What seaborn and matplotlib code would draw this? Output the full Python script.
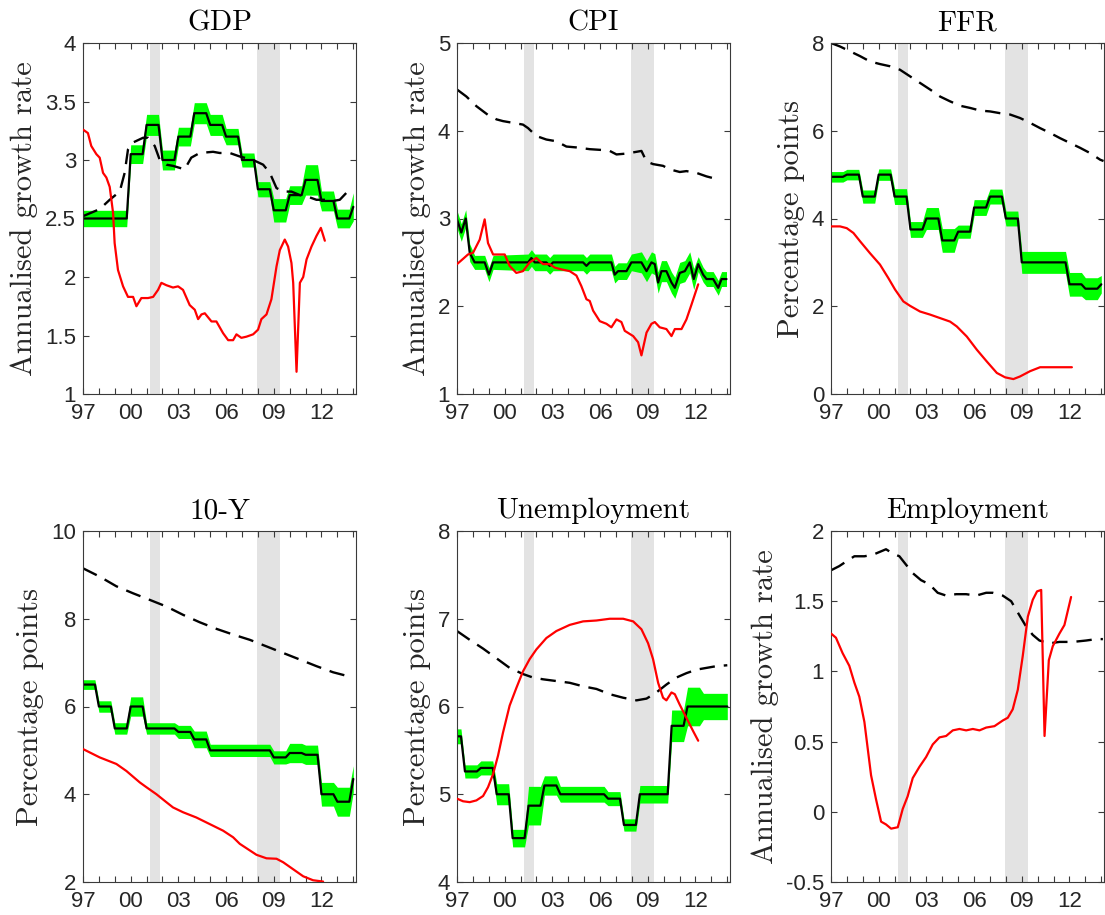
import numpy as np
import pandas as pd
import matplotlib
matplotlib.use("Agg")
import matplotlib.pyplot as plt
from matplotlib.ticker import FuncFormatter
import seaborn as sns

sns.set_theme(style="white")
plt.rcParams["font.family"] = ["Liberation Sans", "DejaVu Sans"]
plt.rcParams["axes.unicode_minus"] = False

# ---------------- data ----------------
quarters = [1997 + 0.25 * i for i in range(69)]
recessions = [(2001.2, 2001.85), (2007.92, 2009.42)]
year_ticks = list(range(1997, 2015))
year_labels = ["97", "", "", "00", "", "", "03", "", "", "06", "", "", "09", "", "", "12", "", ""]

# GDP
gdp_med = ([2.5] * 12 + [3.05] * 4 + [3.3] * 4 + [3.0] * 4 + [3.2] * 4 + [3.4] * 4 + [3.3] * 4
           + [3.2] * 4 + [3.0] * 4 + [2.75] * 4 + [2.57] * 4 + [2.7] * 4 + [2.83] * 4 + [2.65] * 4
           + [2.5] * 4 + [2.6])
gdp_hw = ([0.07] * 12 + [0.08] * 4 + [0.09] * 4 + [0.085] * 4 + [0.08] * 4 + [0.09] * 4 + [0.09] * 4
          + [0.07] * 4 + [0.06] * 4 + [0.065] * 4 + [0.1] * 4 + [0.08] * 4 + [0.13] * 4 + [0.085] * 4
          + [0.08] * 4 + [0.12])
gdp_dash_x = [1997.0, 1998.05, 1998.68, 1999.31, 1999.62, 1999.83, 2000.15, 2000.78, 2001.09, 2001.51,
              2001.83, 2002.24, 2002.66, 2003.39, 2003.81, 2004.34, 2005.18, 2005.60, 2006.23, 2006.86,
              2007.70, 2008.33, 2008.75, 2009.17, 2009.59, 2010.11, 2010.64, 2011.27, 2011.68, 2012.31,
              2012.73, 2013.15, 2013.57, 2014.0]
gdp_dash = [2.52, 2.58, 2.66, 2.73, 2.89, 3.09, 3.15, 3.19, 3.19, 3.12, 3.0, 2.96, 2.95, 2.92, 3.02,
            3.06, 3.07, 3.06, 3.06, 3.03, 3.0, 2.96, 2.89, 2.76, 2.73, 2.73, 2.70, 2.68, 2.66, 2.66,
            2.65, 2.66, 2.72, 2.72]
gdp_red_x = [1997.0, 1997.31, 1997.52, 1997.84, 1998.05, 1998.26, 1998.47, 1998.68, 1998.89, 1998.99,
             1999.20, 1999.52, 1999.83, 2000.15, 2000.36, 2000.67, 2001.09, 2001.41, 2001.72, 2001.93,
             2002.24, 2002.66, 2002.98, 2003.29, 2003.71, 2004.03, 2004.24, 2004.45, 2004.66, 2005.08,
             2005.39, 2005.81, 2006.13, 2006.44, 2006.65, 2006.96, 2007.28, 2007.70, 2008.01, 2008.22,
             2008.54, 2008.85, 2009.17, 2009.38, 2009.69, 2009.90, 2010.11, 2010.22, 2010.43, 2010.64,
             2010.85, 2011.06, 2011.37, 2011.68, 2011.96, 2012.21]
gdp_red = [3.26, 3.23, 3.12, 3.05, 3.02, 2.89, 2.85, 2.77, 2.55, 2.29, 2.06, 1.92, 1.83, 1.83, 1.75,
           1.82, 1.82, 1.83, 1.89, 1.95, 1.93, 1.91, 1.92, 1.89, 1.76, 1.72, 1.64, 1.68, 1.69, 1.62,
           1.62, 1.52, 1.46, 1.46, 1.51, 1.48, 1.49, 1.51, 1.55, 1.64, 1.68, 1.81, 2.09, 2.23, 2.32,
           2.26, 2.12, 1.95, 1.19, 1.95, 2.0, 2.15, 2.26, 2.35, 2.42, 2.31]

# CPI
cpi_mid_x = [1997.0, 1997.27, 1997.55, 1997.80, 1998.11, 1998.74, 1999.01, 1999.27, 2001.47, 2001.68,
             2001.89, 2002.62, 2002.83, 2003.04, 2004.93, 2005.14, 2005.35, 2006.71, 2006.92, 2007.13,
             2007.66, 2007.97, 2008.60, 2008.92, 2009.23, 2009.44, 2009.65, 2009.86, 2010.17, 2010.49,
             2010.70, 2011.01, 2011.33, 2011.64, 2011.89, 2012.17, 2012.48, 2012.69, 2013.11, 2013.43,
             2013.64, 2013.95]
cpi_med = [2.99, 2.84, 3.0, 2.61, 2.5, 2.5, 2.36, 2.5, 2.5, 2.55, 2.5, 2.5, 2.46, 2.5, 2.5, 2.46, 2.5,
           2.5, 2.36, 2.40, 2.40, 2.5, 2.5, 2.40, 2.5, 2.48, 2.27, 2.40, 2.40, 2.27, 2.21, 2.38, 2.40,
           2.5, 2.31, 2.48, 2.36, 2.31, 2.31, 2.21, 2.31, 2.31]
cpi_hw = [0.1] * 4 + [0.08] * 4 + [0.095] * 14 + [0.12] * 13 + [0.085] * 7
cpi_dash_x = [1997.0, 1997.59, 1998.22, 1998.95, 1999.48, 1999.89, 2000.52, 2001.15, 2001.47, 2001.99,
              2002.62, 2003.25, 2003.88, 2004.51, 2005.35, 2006.19, 2006.61, 2007.03, 2007.66, 2008.29,
              2008.60, 2008.92, 2009.33, 2009.96, 2010.38, 2011.01, 2011.43, 2012.06, 2012.69, 2013.11,
              2013.53]
cpi_dash = [4.47, 4.39, 4.28, 4.18, 4.13, 4.11, 4.09, 4.07, 4.03, 3.94, 3.90, 3.88, 3.82, 3.81, 3.79,
            3.78, 3.77, 3.73, 3.74, 3.76, 3.77, 3.65, 3.62, 3.60, 3.56, 3.53, 3.54, 3.52, 3.48, 3.46,
            3.43]
cpi_red_x = [1997.0, 1997.38, 1997.69, 1998.01, 1998.43, 1998.74, 1998.95, 1999.27, 1999.69, 2000.0,
             2000.31, 2000.73, 2001.15, 2001.57, 2001.99, 2002.41, 2002.83, 2003.15, 2003.57, 2004.09,
             2004.51, 2004.82, 2005.14, 2005.35, 2005.56, 2005.98, 2006.40, 2006.71, 2007.03, 2007.34,
             2007.55, 2008.08, 2008.39, 2008.60, 2008.92, 2009.23, 2009.44, 2009.75, 2010.17, 2010.49,
             2010.70, 2011.12, 2011.43, 2011.75, 2012.17]
cpi_red = [2.48, 2.54, 2.59, 2.61, 2.76, 2.99, 2.72, 2.59, 2.59, 2.59, 2.46, 2.38, 2.40, 2.5, 2.55,
           2.48, 2.48, 2.44, 2.42, 2.40, 2.35, 2.23, 2.08, 2.06, 1.95, 1.83, 1.80, 1.76, 1.85, 1.82,
           1.72, 1.66, 1.59, 1.44, 1.70, 1.80, 1.82, 1.76, 1.74, 1.66, 1.74, 1.74, 1.85, 2.02, 2.25]

# FFR
ffr_med = ([4.95] * 4 + [5.0] * 4 + [4.5] * 4 + [5.0] * 4 + [4.5] * 4 + [3.75] * 4 + [4.0] * 4
           + [3.5] * 4 + [3.7] * 4 + [4.25] * 4 + [4.5] * 4 + [4.0] * 4 + [3.0] * 12 + [2.5] * 4
           + [2.4] * 4 + [2.5])
ffr_hw = ([0.12] * 4 + [0.12] * 4 + [0.15] * 4 + [0.13] * 4 + [0.18] * 4 + [0.18] * 4 + [0.25] * 4
          + [0.27] * 4 + [0.15] * 4 + [0.18] * 4 + [0.17] * 4 + [0.17] * 4 + [0.25] * 12 + [0.27] * 4
          + [0.25] * 4 + [0.2])
ffr_dash_x = [1997.0, 1997.57, 1998.20, 1998.83, 1999.45, 2000.08, 2000.71, 2001.34, 2001.97, 2002.60,
              2003.23, 2003.86, 2004.49, 2005.12, 2005.75, 2006.38, 2007.01, 2007.64, 2008.26, 2008.89,
              2009.52, 2010.15, 2010.78, 2011.41, 2012.04, 2012.67, 2013.30, 2013.93, 2014.14]
ffr_dash = [8.0, 7.92, 7.81, 7.70, 7.58, 7.52, 7.47, 7.39, 7.24, 7.09, 6.94, 6.78, 6.67, 6.57, 6.52,
            6.46, 6.44, 6.40, 6.37, 6.29, 6.18, 6.06, 5.95, 5.83, 5.72, 5.61, 5.49, 5.34, 5.31]
ffr_red_x = [1997.0, 1997.57, 1997.99, 1998.41, 1998.83, 1999.45, 2000.08, 2000.61, 2001.03, 2001.55,
             2001.97, 2002.60, 2003.23, 2003.86, 2004.49, 2004.91, 2005.54, 2006.17, 2006.80, 2007.43,
             2007.95, 2008.47, 2008.89, 2009.52, 2010.15, 2010.78, 2011.41, 2012.15]
ffr_red = [3.82, 3.82, 3.78, 3.67, 3.48, 3.21, 2.95, 2.64, 2.38, 2.11, 2.01, 1.88, 1.81, 1.73, 1.65,
           1.54, 1.31, 1.01, 0.74, 0.48, 0.38, 0.34, 0.40, 0.52, 0.61, 0.61, 0.61, 0.61]

# 10-Y
y10_med = ([6.5] * 4 + [6.0] * 4 + [5.5] * 4 + [6.0] * 4 + [5.5] * 8 + [5.42] * 4 + [5.25] * 4
           + [5.0] * 16 + [4.84] * 4 + [4.94] * 4 + [4.9] * 4 + [4.0] * 4 + [3.83] * 4 + [4.35])
y10_hw = ([0.11] * 4 + [0.13] * 4 + [0.13] * 4 + [0.22] * 4 + [0.13] * 8 + [0.15] * 4 + [0.19] * 4
          + [0.14] * 16 + [0.15] * 4 + [0.22] * 4 + [0.22] * 4 + [0.27] * 4 + [0.33] * 4 + [0.3])
y10_dash_x = [1997.0, 1998.05, 1999.10, 2000.15, 2001.20, 2002.24, 2003.29, 2004.34, 2005.39, 2006.44,
              2007.49, 2008.54, 2009.59, 2010.64, 2011.68, 2012.73, 2013.89]
y10_dash = [9.15, 8.96, 8.74, 8.58, 8.43, 8.28, 8.09, 7.92, 7.77, 7.64, 7.52, 7.37, 7.22, 7.07, 6.92,
            6.78, 6.67]
y10_red_x = [1997.0, 1998.05, 1999.10, 1999.73, 2000.57, 2000.99, 2001.62, 2002.24, 2002.66, 2003.29,
             2004.13, 2004.97, 2005.81, 2006.44, 2006.86, 2007.49, 2007.91, 2008.54, 2009.17, 2009.59,
             2010.22, 2010.85, 2011.47, 2012.10]
y10_red = [5.03, 4.84, 4.69, 4.53, 4.27, 4.16, 4.0, 3.82, 3.70, 3.59, 3.47, 3.32, 3.17, 3.02, 2.87,
           2.72, 2.62, 2.54, 2.53, 2.45, 2.29, 2.13, 2.04, 2.01]

# Unemployment
un_med = ([5.66] * 2 + [5.26] * 4 + [5.30] * 4 + [5.0] * 4 + [4.5] * 4 + [4.87] * 4 + [5.10] * 4
          + [5.0] * 12 + [4.95] * 4 + [4.65] * 4 + [5.0] * 8 + [5.78] * 4 + [6.0] * 11)
un_hw = ([0.085] * 2 + [0.075] * 4 + [0.08] * 4 + [0.12] * 4 + [0.1] * 4 + [0.22] * 4 + [0.11] * 4
         + [0.09] * 12 + [0.08] * 4 + [0.07] * 4 + [0.1] * 8 + [0.18] * 4 + [0.22] * 4 + [0.15] * 7)
un_dash_x = [1997.0, 1997.80, 1998.64, 1999.48, 2000.31, 2001.15, 2001.78, 2002.41, 2003.25, 2004.09,
             2004.93, 2005.77, 2006.61, 2007.45, 2008.29, 2008.92, 2009.54, 2010.17, 2010.80, 2011.43,
             2012.06, 2012.69, 2013.32, 2014.0]
un_dash = [6.86, 6.76, 6.66, 6.55, 6.44, 6.37, 6.33, 6.31, 6.29, 6.27, 6.23, 6.20, 6.14, 6.10, 6.07,
           6.09, 6.16, 6.25, 6.33, 6.38, 6.42, 6.44, 6.46, 6.47]
un_red_x = [1997.0, 1997.38, 1997.80, 1998.22, 1998.64, 1998.95, 1999.27, 1999.58, 1999.89, 2000.31,
            2000.73, 2001.15, 2001.57, 2001.99, 2002.62, 2003.25, 2004.09, 2004.93, 2005.77, 2006.61,
            2007.45, 2008.08, 2008.60, 2009.02, 2009.33, 2009.65, 2009.96, 2010.17, 2010.49, 2010.70,
            2011.01, 2011.43, 2011.85, 2012.17]
un_red = [4.95, 4.92, 4.91, 4.93, 4.98, 5.08, 5.23, 5.44, 5.70, 6.01, 6.21, 6.40, 6.54, 6.65, 6.78,
          6.86, 6.93, 6.97, 6.98, 7.0, 7.0, 6.97, 6.88, 6.72, 6.54, 6.27, 6.10, 6.07, 6.16, 6.14, 6.02,
          5.87, 5.72, 5.61]

# Employment
emp_dash_x = [1997.0, 1997.52, 1998.05, 1998.47, 1999.10, 1999.62, 2000.04, 2000.46, 2000.88, 2001.30,
              2001.72, 2002.14, 2002.66, 2003.19, 2003.71, 2004.24, 2004.87, 2005.50, 2006.13, 2006.76,
              2007.17, 2007.80, 2008.33, 2008.85, 2009.27, 2009.69, 2010.11, 2010.74, 2011.37, 2012.21,
              2013.05, 2013.68, 2014.1]
emp_dash = [1.72, 1.75, 1.79, 1.82, 1.82, 1.83, 1.85, 1.87, 1.84, 1.82, 1.76, 1.70, 1.65, 1.62, 1.56,
            1.54, 1.55, 1.55, 1.54, 1.56, 1.56, 1.54, 1.50, 1.40, 1.32, 1.26, 1.22, 1.20, 1.21, 1.21,
            1.22, 1.23, 1.23]
emp_red_x = [1997.0, 1997.31, 1997.73, 1998.15, 1998.47, 1998.78, 1999.10, 1999.31, 1999.52, 1999.83,
             2000.15, 2000.46, 2000.78, 2001.20, 2001.51, 2001.82, 2002.14, 2002.56, 2002.98, 2003.40,
             2003.82, 2004.24, 2004.66, 2005.08, 2005.50, 2005.92, 2006.34, 2006.76, 2007.28, 2007.80,
             2008.12, 2008.43, 2008.75, 2009.06, 2009.38, 2009.69, 2009.96, 2010.22, 2010.43, 2010.70,
             2010.95, 2011.37, 2011.68, 2012.10]
emp_red = [1.27, 1.24, 1.13, 1.04, 0.92, 0.82, 0.64, 0.45, 0.26, 0.09, -0.07, -0.09, -0.12, -0.11,
           0.02, 0.11, 0.24, 0.32, 0.39, 0.48, 0.53, 0.54, 0.58, 0.59, 0.58, 0.59, 0.58, 0.60, 0.61,
           0.65, 0.67, 0.73, 0.87, 1.11, 1.39, 1.51, 1.57, 1.58, 0.54, 1.08, 1.18, 1.27, 1.33, 1.53]

panels = [
    dict(title="GDP", ylabel="Annualised growth rate", ylim=(1, 4), yticks=[1, 1.5, 2, 2.5, 3, 3.5, 4],
         mid_x=quarters, mid=gdp_med, hw=gdp_hw, dash_x=gdp_dash_x, dash=gdp_dash, red_x=gdp_red_x, red=gdp_red),
    dict(title="CPI", ylabel="Annualised growth rate", ylim=(1, 5), yticks=[1, 2, 3, 4, 5],
         mid_x=cpi_mid_x, mid=cpi_med, hw=cpi_hw, dash_x=cpi_dash_x, dash=cpi_dash, red_x=cpi_red_x, red=cpi_red),
    dict(title="FFR", ylabel="Percentage points", ylim=(0, 8), yticks=[0, 2, 4, 6, 8],
         mid_x=quarters, mid=ffr_med, hw=ffr_hw, dash_x=ffr_dash_x, dash=ffr_dash, red_x=ffr_red_x, red=ffr_red),
    dict(title="10-Y", ylabel="Percentage points", ylim=(2, 10), yticks=[2, 4, 6, 8, 10],
         mid_x=quarters, mid=y10_med, hw=y10_hw, dash_x=y10_dash_x, dash=y10_dash, red_x=y10_red_x, red=y10_red),
    dict(title="Unemployment", ylabel="Percentage points", ylim=(4, 8), yticks=[4, 5, 6, 7, 8],
         mid_x=quarters, mid=un_med, hw=un_hw, dash_x=un_dash_x, dash=un_dash, red_x=un_red_x, red=un_red),
    dict(title="Employment", ylabel="Annualised growth rate", ylim=(-0.5, 2), yticks=[-0.5, 0, 0.5, 1, 1.5, 2],
         mid_x=None, mid=None, hw=None, dash_x=emp_dash_x, dash=emp_dash, red_x=emp_red_x, red=emp_red),
]

# ---------------- layout ----------------
W, H = 1105, 915
fig = plt.figure(figsize=(W / 100, H / 100), dpi=100)
col_left = [83, 457, 831]
row_top = [43, 531]
ax_w, ax_h = 273, 351

axis_col = "#3a3a3a"
serif = ["cmr10", "DejaVu Serif"]

for i, p in enumerate(panels):
    r, c = divmod(i, 3)
    left = col_left[c] / W
    bottom = 1 - (row_top[r] + ax_h) / H
    ax = fig.add_axes([left, bottom, ax_w / W, ax_h / H])

    for a, b in recessions:
        ax.axvspan(a, b, color="#e3e3e3", lw=0, zorder=0.5)

    if p["mid"] is not None:
        mid = np.array(p["mid"])
        hw = np.array(p["hw"])
        ax.fill_between(p["mid_x"], mid - hw, mid + hw, color=(0, 1, 0), lw=0, zorder=1)
        sns.lineplot(x=p["mid_x"], y=p["mid"], ax=ax, color="black", lw=1.6,
                     estimator=None, sort=False, legend=False, zorder=2)
    sns.lineplot(x=p["dash_x"], y=p["dash"], ax=ax, color="black", lw=1.7,
                 estimator=None, sort=False, legend=False, zorder=2.5)
    ax.lines[-1].set_dashes([6.5, 3.8])
    sns.lineplot(x=p["red_x"], y=p["red"], ax=ax, color="red", lw=1.6,
                 estimator=None, sort=False, legend=False, zorder=3)

    ax.set_xlim(1997, 2014.17)
    ax.set_ylim(*p["ylim"])
    ax.set_xticks(year_ticks)
    ax.set_xticklabels(year_labels)
    ax.set_yticks(p["yticks"])
    ax.yaxis.set_major_formatter(FuncFormatter(lambda v, pos: "%g" % v))
    ax.tick_params(direction="in", length=4.5, width=0.8, color=axis_col, labelcolor="#262626",
                   labelsize=16, top=True, right=True, bottom=True, left=True)
    ax.tick_params(axis="x", pad=6.5)
    ax.tick_params(axis="y", pad=5)
    for s in ax.spines.values():
        s.set_color(axis_col)
        s.set_linewidth(0.8)
        s.set_visible(True)
    ax.set_xlabel("")
    ax.set_title(p["title"], fontsize=21, family=serif, pad=9, color="black")
    ax.set_ylabel(p["ylabel"], fontsize=22, family=serif, labelpad=5, color="#262626")

fig.savefig("out.png", dpi=100)
